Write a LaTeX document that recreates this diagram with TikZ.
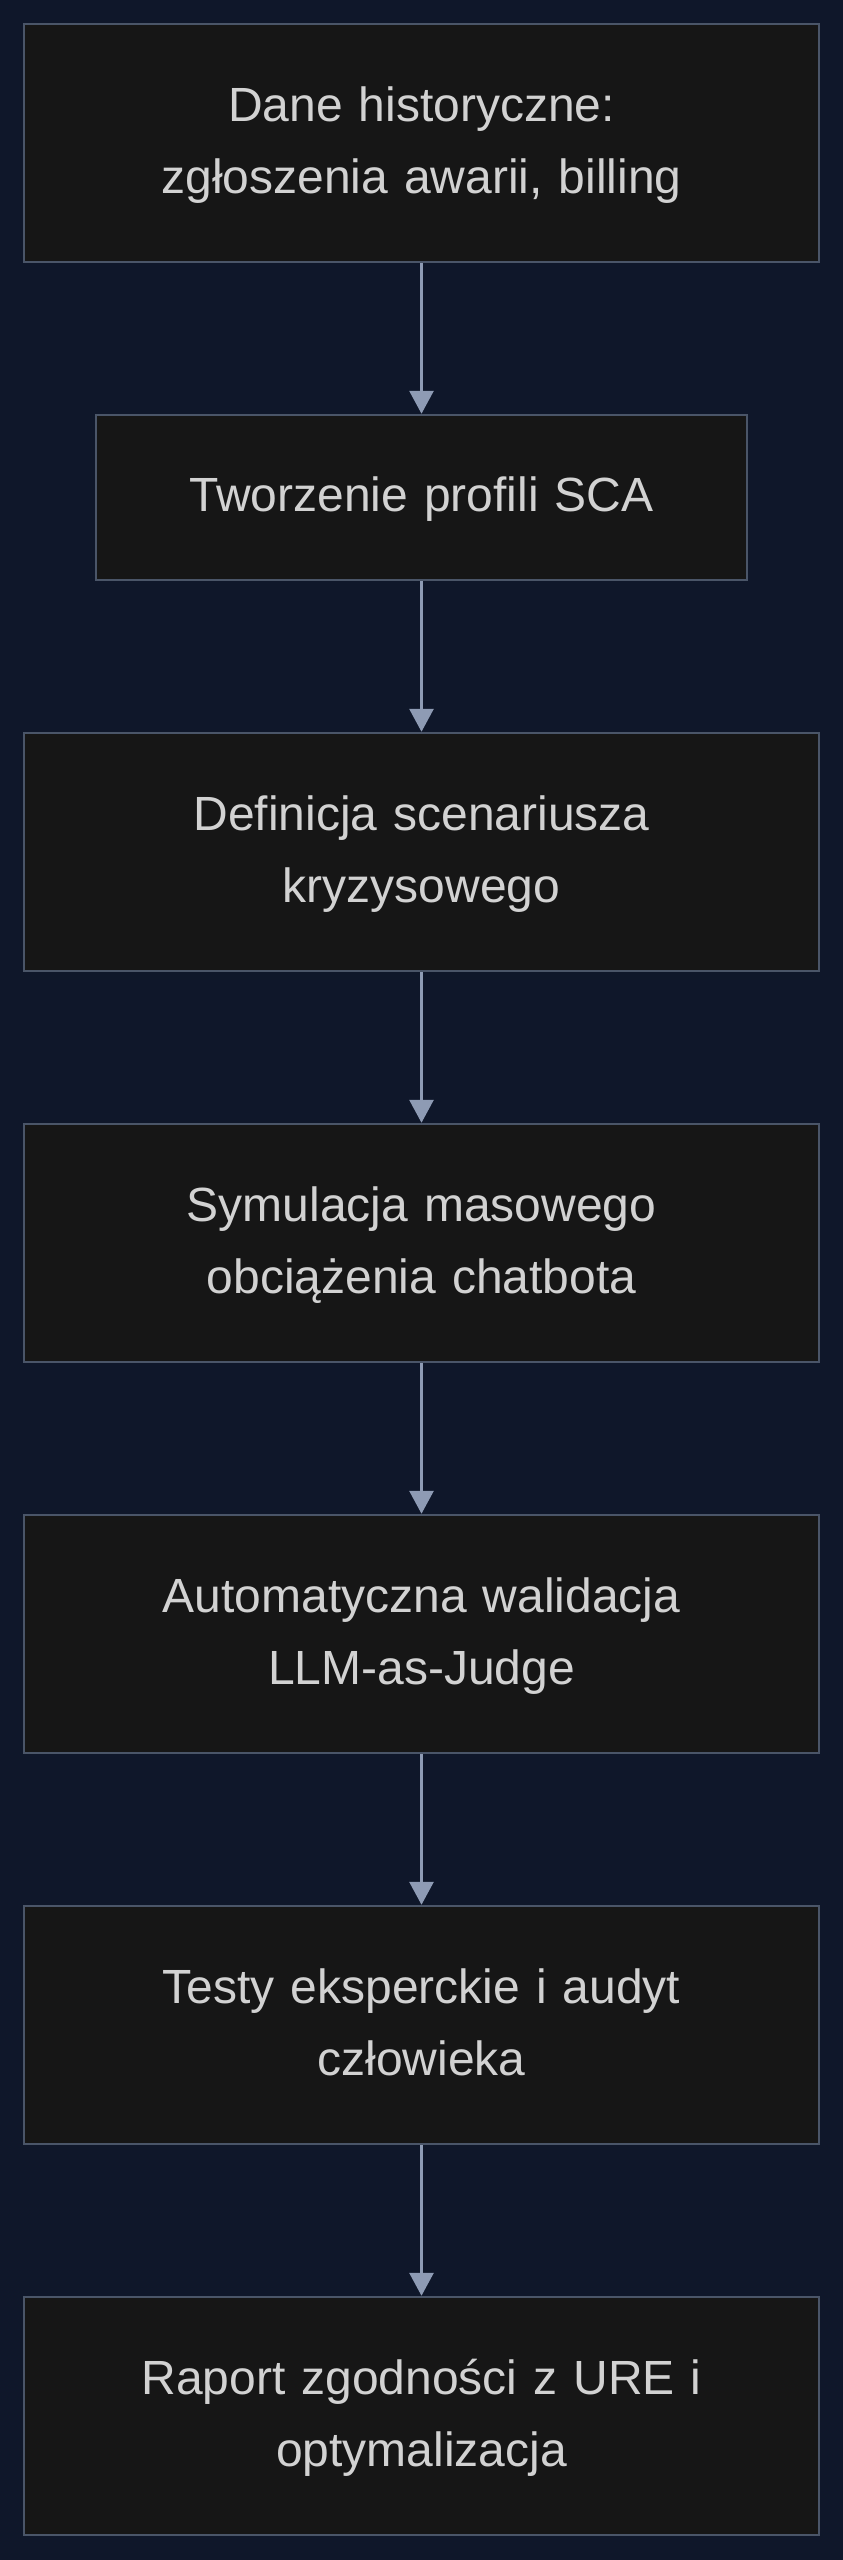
\documentclass[tikz,border=0pt]{standalone}
\usepackage{fontspec}
\setmainfont{Liberation Sans}
\usetikzlibrary{arrows.meta}
\definecolor{bgc}{HTML}{0F172A}
\definecolor{boxfill}{HTML}{161616}
\definecolor{boxline}{HTML}{4A5568}
\definecolor{arrowc}{HTML}{8E9BB4}
\definecolor{textc}{HTML}{D2D2D2}
\newcommand{\tsp}{\hspace*{13.3pt}}
\tikzset{
  stepbox/.style={draw=boxline, fill=boxfill, line width=2.5pt, inner sep=0pt,
    minimum width=795pt, minimum height=238pt, text width=780pt, align=center,
    text=textc, font=\fontsize{48pt}{72pt}\selectfont},
  narrowbox/.style={stepbox, minimum width=651pt, minimum height=165pt, text width=640pt},
  flow/.style={draw=arrowc, line width=3pt, -{Triangle[length=23pt,width=24pt]}}
}
\begin{document}
\begin{tikzpicture}[x=1pt,y=-1pt]
\fill[bgc] (0,0) rectangle (843,2560);
\useasboundingbox (0,0) rectangle (843,2560);
\node[stepbox] (b1) at (421.5,143) {\strut Dane historyczne:\tsp\\ zgłoszenia awarii, billing\strut};
\node[narrowbox] (b2) at (421.5,497.5) {\strut Tworzenie profili SCA\strut};
\node[stepbox] (b3) at (421.5,852) {\strut Definicja scenariusza\tsp\\ kryzysowego\strut};
\node[stepbox] (b4) at (421.5,1243) {\strut Symulacja masowego\tsp\\ obciążenia chatbota\strut};
\node[stepbox] (b5) at (421.5,1634) {\strut Automatyczna walidacja\tsp\\ LLM-as-Judge\strut};
\node[stepbox] (b6) at (421.5,2025) {\strut Testy eksperckie i audyt\tsp\\ człowieka\strut};
\node[stepbox] (b7) at (421.5,2416) {\strut Raport zgodności z URE i\tsp\\ optymalizacja\strut};
\draw[flow] (b1.south) -- (b2.north);
\draw[flow] (b2.south) -- (b3.north);
\draw[flow] (b3.south) -- (b4.north);
\draw[flow] (b4.south) -- (b5.north);
\draw[flow] (b5.south) -- (b6.north);
\draw[flow] (b6.south) -- (b7.north);
\end{tikzpicture}
\end{document}
